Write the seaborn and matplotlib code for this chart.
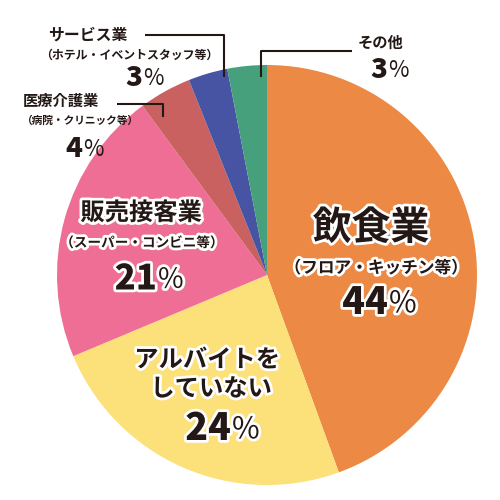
import matplotlib
matplotlib.use("Agg")
import matplotlib.pyplot as plt
import matplotlib.patheffects as pe
import seaborn as sns

# data
labels = ["飲食業", "アルバイトをしていない", "販売接客業", "医療介護業", "サービス業", "その他"]
notes = ["（フロア・キッチン等）", "", "（スーパー・コンビニ等）", "（病院・クリニック等）",
         "（ホテル・イベントスタッフ等）", ""]
values = [44, 24, 21, 4, 3, 3]
colors = ["#EC8944", "#FCE07A", "#EE6E95", "#C96161", "#4654A3", "#46A07B"]

sns.set_theme(style="white")
plt.rcParams["font.family"] = ["Noto Sans CJK JP", "DejaVu Sans"]

fig = plt.figure(figsize=(5, 5), dpi=100)
ax = fig.add_axes([0, 0, 1, 1])

CX, CY, R = 267, 275, 210


def px(x, y):
    return ((x - CX) / R, (CY - y) / R)


ax.pie(values, colors=colors, startangle=90, counterclock=False,
       radius=1, center=(0, 0), wedgeprops=dict(linewidth=0))
ax.set_xlim(-CX / R, (500 - CX) / R)
ax.set_ylim(-(500 - CY) / R, CY / R)
ax.set_aspect("equal")
ax.axis("off")

stroke = [pe.withStroke(linewidth=4, foreground="white")]
ink = "#231815"


def txt(x, y, s, size, weight="bold", ha="center", outline=False):
    ax.text(*px(x, y), s, fontsize=size, fontweight=weight, ha=ha, va="center",
            color=ink, path_effects=stroke if outline else None)


def pct(x, y, v, size, outline=False):
    # heavy number, lighter percent sign, split at x
    txt(x, y, str(v), size, weight="heavy", ha="right", outline=outline)
    txt(x + 1, y + size * 0.03, "%", size * 0.8, weight="normal", ha="left", outline=outline)


# 飲食業
txt(371, 228, labels[0], 28, outline=True)
txt(376, 268, notes[0], 12, outline=True)
pct(388, 303, values[0], 27, outline=True)

# アルバイトをしていない
txt(207, 360, labels[1][:6], 17.5, outline=True)
txt(211, 389, labels[1][6:], 17.5, outline=True)
pct(231, 429, values[1], 27, outline=True)

# 販売接客業
txt(141, 213, labels[2], 17.5, outline=True)
txt(142, 243, notes[2], 9.8, outline=True)
pct(157, 279, values[2], 25, outline=True)

# 医療介護業
txt(61, 101, labels[3], 11)
txt(80, 121, notes[3], 7.7)
pct(82, 149, values[3], 20)

# サービス業
txt(88, 35, labels[4], 11.4)
txt(129, 55, notes[4], 8.6)
pct(142, 78, values[4], 20)

# その他
txt(381, 43, labels[5], 11)
pct(387, 70, values[5], 20)

# leader lines
line_kw = dict(color=ink, linewidth=1.5, solid_capstyle="butt")
for pts in [[(145, 35), (224, 35), (224, 77)],
            [(117, 104), (163, 104), (163, 117)],
            [(352, 51), (261, 51), (261, 77)]]:
    xs, ys = zip(*[px(x, y) for x, y in pts])
    ax.plot(xs, ys, **line_kw)

fig.savefig("out.png", dpi=100)
